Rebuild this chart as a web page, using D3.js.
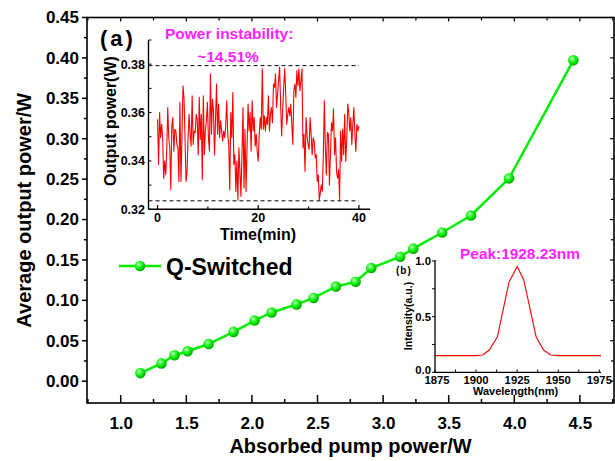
<!DOCTYPE html>
<html><head><meta charset="utf-8">
<script src="https://cdn.jsdelivr.net/npm/d3@7"></script>
<style>
html,body{margin:0;padding:0;background:#fff;}
svg text{font-family:"Liberation Sans",Arial,Helvetica,sans-serif;font-weight:bold;}
</style></head>
<body>
<svg id="chart" width="615" height="461"></svg>
<script>
// ---- main chart data ----
const pumpPower = [1.15, 1.31, 1.41, 1.51, 1.67, 1.86, 2.02, 2.15, 2.34, 2.47, 2.64, 2.79, 2.91, 3.13, 3.23, 3.45, 3.67, 3.96, 4.45];
const outputPower = [0.010, 0.022, 0.032, 0.037, 0.046, 0.061, 0.075, 0.085, 0.095, 0.103, 0.117, 0.123, 0.140, 0.154, 0.164, 0.184, 0.205, 0.251, 0.397];
const xTicks = [1.0, 1.5, 2.0, 2.5, 3.0, 3.5, 4.0, 4.5];
const yTicks = [0.00, 0.05, 0.10, 0.15, 0.20, 0.25, 0.30, 0.35, 0.40, 0.45];
const seriesName = "Q-Switched";

// ---- inset (a): power stability over 40 min ----
const stabilityDuration = 40; // minutes
const stabilityPower = [
0.3572,0.3385,0.3600,0.3496,0.3551,0.3496,0.3329,0.3399,0.3343,0.3440,
0.3621,0.3496,0.3454,0.3281,0.3544,0.3579,0.3440,0.3531,0.3524,0.3468,
0.3454,0.3315,0.3642,0.3315,0.3496,0.3711,0.3663,0.3496,0.3315,0.3357,
0.3496,0.3593,0.3510,0.3461,0.3669,0.3468,0.3524,0.3517,0.3593,0.3572,
0.3426,0.3663,0.3489,0.3593,0.3322,0.3669,0.3426,0.3524,0.3565,0.3642,
0.3496,0.3440,0.3760,0.3510,0.3656,0.3607,0.3426,0.3572,0.3718,0.3510,
0.3635,0.3496,0.3565,0.3524,0.3482,0.3524,0.3496,0.3544,0.3649,0.3510,
0.3468,0.3281,0.3600,0.3496,0.3683,0.3385,0.3426,0.3274,0.3399,0.3239,
0.3454,0.3357,0.3253,0.3426,0.3621,0.3288,0.3531,0.3274,0.3454,0.3635,
0.3524,0.3600,0.3440,0.3649,0.3524,0.3579,0.3461,0.3510,0.3440,0.3399,
0.3510,0.3579,0.3531,0.3781,0.3531,0.3586,0.3524,0.3579,0.3551,0.3669,
0.3524,0.3593,0.3621,0.3558,0.3718,0.3704,0.3760,0.3621,0.3676,0.3732,
0.3788,0.3635,0.3503,0.3607,0.3704,0.3781,0.3676,0.3551,0.3593,0.3621,
0.3586,0.3635,0.3551,0.3468,0.3690,0.3718,0.3663,0.3774,0.3711,0.3781,
0.3690,0.3732,0.3781,0.3454,0.3510,0.3357,0.3579,0.3503,0.3468,0.3447,
0.3579,0.3510,0.3426,0.3496,0.3482,0.3413,0.3426,0.3315,0.3343,0.3239,
0.3267,0.3301,0.3274,0.3426,0.3649,0.3454,0.3343,0.3517,0.3510,0.3301,
0.3426,0.3558,0.3524,0.3614,0.3426,0.3496,0.3357,0.3329,0.3364,0.3239,
0.3524,0.3399,0.3531,0.3426,0.3593,0.3399,0.3482,0.3635,0.3600,0.3524,
0.3579,0.3468,0.3551,0.3621,0.3510,0.3440,0.3551,0.3524,0.3544];
const stabilityMax = 0.3794, stabilityMin = 0.3235;
const timeTicks = [0, 20, 40];
const insetATicks = [0.32, 0.34, 0.36, 0.38];

// ---- inset (b): spectrum ----
const wavelength = [1875, 1900, 1904, 1908, 1913, 1920, 1925, 1929, 1936.5, 1941, 1945.5, 1950, 1976];
const intensity  = [0.15, 0.15, 0.155, 0.20, 0.32, 0.81, 0.95, 0.83, 0.32, 0.20, 0.155, 0.15, 0.15];
const wlTicks = [1875, 1900, 1925, 1950, 1975];
const intTicks = [0.0, 0.5, 1.0];

const svg = d3.select("#chart");
const defs = svg.append("defs");
const grad = defs.append("radialGradient").attr("id","ball").attr("cx","38%").attr("cy","35%").attr("r","65%");
grad.append("stop").attr("offset","0%").attr("stop-color","#f0fff0");
grad.append("stop").attr("offset","25%").attr("stop-color","#55ff55");
grad.append("stop").attr("offset","65%").attr("stop-color","#00e600");
grad.append("stop").attr("offset","100%").attr("stop-color","#00a800");

// ===== main axes =====
const x = d3.scaleLinear().domain([0.743, 4.76]).range([87, 614]);
const y = d3.scaleLinear().domain([-0.027, 0.45]).range([403, 17.5]);
const X0 = 87, X1 = 614, Y0 = 403, Y1 = 17.5;

const xMinor = d3.range(0.75, 4.76, 0.25);
const yMinor = d3.range(0, 0.451, 0.025);

const ax = svg.append("g").attr("class","axes");
const gB = ax.append("g").attr("transform",`translate(0,${Y0})`)
  .call(d3.axisBottom(x).tickValues(xTicks).tickSize(0).tickPadding(14).tickFormat(d3.format(".1f")));
gB.select(".domain").remove();
gB.selectAll("text").attr("font-size",17).attr("fill","#000");
ax.append("g").selectAll("line").data(xMinor).join("line")
  .attr("x1",d=>x(d)).attr("x2",d=>x(d)).attr("y1",Y0)
  .attr("y2",d=>Y0 - (Math.abs(d*2-Math.round(d*2))<1e-6 ? 8 : 4))
  .attr("stroke","#000").attr("stroke-width",1.5);
ax.append("g").selectAll("line").data(xMinor).join("line")
  .attr("x1",d=>x(d)).attr("x2",d=>x(d)).attr("y1",Y1)
  .attr("y2",d=>Y1 + (Math.abs(d*2-Math.round(d*2))<1e-6 ? 4 : 3))
  .attr("stroke","#000").attr("stroke-width",1.2);
const gL = ax.append("g").attr("transform",`translate(${X0},0)`)
  .call(d3.axisLeft(y).tickValues(yTicks).tickSize(0).tickPadding(8).tickFormat(d3.format(".2f")));
gL.select(".domain").remove();
gL.selectAll("text").attr("font-size",17).attr("fill","#000");
ax.append("g").selectAll("line").data(yMinor).join("line")
  .attr("y1",d=>y(d)).attr("y2",d=>y(d)).attr("x1",X0)
  .attr("x2",d=>X0 - (Math.abs(d*20-Math.round(d*20))<1e-6 ? 5 : 3))
  .attr("stroke","#000").attr("stroke-width",1.5);
ax.append("g").selectAll("line").data(yMinor).join("line")
  .attr("y1",d=>y(d)).attr("y2",d=>y(d)).attr("x1",X1)
  .attr("x2",d=>X1 - (Math.abs(d*20-Math.round(d*20))<1e-6 ? 4 : 3))
  .attr("stroke","#000").attr("stroke-width",1.2);
ax.append("rect").attr("x",X0).attr("y",Y1).attr("width",X1-X0).attr("height",Y0-Y1)
  .attr("fill","none").attr("stroke","#000").attr("stroke-width",1.6);

svg.append("text").attr("x",(X0+X1)/2).attr("y",453).attr("text-anchor","middle")
  .attr("font-size",20).text("Absorbed pump power/W");
svg.append("text").attr("transform",`translate(31,${(Y0+Y1)/2}) rotate(-90)`).attr("text-anchor","middle")
  .attr("font-size",20).text("Average output power/W");

const pts = pumpPower.map((p,i)=>[p, outputPower[i]]);
svg.append("path").datum(pts)
  .attr("d", d3.line().x(d=>x(d[0])).y(d=>y(d[1])))
  .attr("fill","none").attr("stroke","#00ee00").attr("stroke-width",2.5);
svg.append("g").selectAll("circle").data(pts).join("circle")
  .attr("cx",d=>x(d[0])).attr("cy",d=>y(d[1])).attr("r",5.3).attr("fill","url(#ball)");

const lg = svg.append("g");
lg.append("line").attr("x1",119).attr("x2",161).attr("y1",266).attr("y2",266)
  .attr("stroke","#00ee00").attr("stroke-width",2.5);
lg.append("circle").attr("cx",140).attr("cy",266).attr("r",5.3).attr("fill","url(#ball)");
lg.append("text").attr("x",166).attr("y",274.5).attr("font-size",23).text(seriesName);

// ===== inset (a) =====
const ax2 = d3.scaleLinear().domain([-1.8, 42.2]).range([148.5, 370]);
const ay2 = d3.scaleLinear().domain([0.32, 0.39]).range([209.3, 40]);
const ia = svg.append("g");
const tA = stabilityPower.map((v,i)=>[i*stabilityDuration/(stabilityPower.length-1), v]);
ia.append("path").datum(tA).attr("d", d3.line().x(d=>ax2(d[0])).y(d=>ay2(d[1])))
  .attr("fill","none").attr("stroke","#ff0000").attr("stroke-width",1.1).attr("stroke-linejoin","round");
[stabilityMax, stabilityMin].forEach(v=>{
  ia.append("line").attr("x1",148.5).attr("x2",ax2(40)).attr("y1",ay2(v)).attr("y2",ay2(v))
    .attr("stroke","#000").attr("stroke-width",1).attr("stroke-dasharray","4,3");
});
ia.append("line").attr("x1",148.5).attr("x2",148.5).attr("y1",40).attr("y2",209.3).attr("stroke","#000").attr("stroke-width",1.4);
ia.append("line").attr("x1",148.5).attr("x2",370).attr("y1",209.3).attr("y2",209.3).attr("stroke","#000").attr("stroke-width",1.4);
ia.selectAll(".ayt").data(d3.range(0.32,0.3901,0.01)).join("line")
  .attr("x1",148.5).attr("x2",151.5).attr("y1",d=>ay2(d)).attr("y2",d=>ay2(d)).attr("stroke","#000");
ia.selectAll(".axt").data([0,10,20,30,40]).join("line")
  .attr("x1",d=>ax2(d)).attr("x2",d=>ax2(d)).attr("y1",209.3).attr("y2",d=>d%20===0?205:206.5).attr("stroke","#000").attr("stroke-width",1.2);
ia.selectAll(".ayl").data(insetATicks).join("text")
  .attr("x",145).attr("y",d=>ay2(d)+4.5).attr("text-anchor","end").attr("font-size",12.5).text(d=>d.toFixed(2));
ia.selectAll(".axl").data(timeTicks).join("text")
  .attr("x",d=>ax2(d)).attr("y",222).attr("text-anchor","middle").attr("font-size",12.5).text(d=>d);
ia.append("text").attr("x",258).attr("y",239.5).attr("text-anchor","middle").attr("font-size",16).text("Time(min)");
ia.append("text").attr("transform","translate(116,121) rotate(-90)").attr("text-anchor","middle").attr("font-size",16).text("Output power(W)");
ia.append("text").attr("x",100).attr("y",46).attr("font-size",22).attr("letter-spacing",3).text("(a)");
ia.append("text").attr("x",165).attr("y",38.5).attr("font-size",15.5).attr("fill","#ff22ff").text("Power instability:");
ia.append("text").attr("x",228).attr("y",61.5).attr("text-anchor","middle").attr("font-size",15.5).attr("fill","#ff22ff").text("~14.51%");

// ===== inset (b) =====
const bx = d3.scaleLinear().domain([1875, 1976]).range([435, 601]);
const by = d3.scaleLinear().domain([0, 1]).range([372.3, 261]);
const ib = svg.append("g");
const spec = wavelength.map((w,i)=>[w, intensity[i]]);
ib.append("path").datum(spec).attr("d", d3.line().x(d=>bx(d[0])).y(d=>by(d[1])))
  .attr("fill","none").attr("stroke","#ff0000").attr("stroke-width",1.1);
ib.append("line").attr("x1",435).attr("x2",435).attr("y1",260).attr("y2",372.3).attr("stroke","#000").attr("stroke-width",1.3);
ib.append("line").attr("x1",435).attr("x2",601).attr("y1",372.3).attr("y2",372.3).attr("stroke","#000").attr("stroke-width",1.3);
ib.selectAll(".byt").data([0,0.25,0.5,0.75,1]).join("line")
  .attr("x1",432).attr("x2",435).attr("y1",d=>by(d)).attr("y2",d=>by(d)).attr("stroke","#000");
ib.selectAll(".bxt").data(d3.range(1875,1976,12.5)).join("line")
  .attr("x1",d=>bx(d)).attr("x2",d=>bx(d)).attr("y1",372.3).attr("y2",369.5).attr("stroke","#000");
ib.selectAll(".byl").data(intTicks).join("text")
  .attr("x",431).attr("y",d=>by(d)+(d===0?1.5:4)).attr("text-anchor","end").attr("font-size",11.3).text(d=>d.toFixed(1));
ib.selectAll(".bxl").data(wlTicks).join("text")
  .attr("x",d=>bx(d)+(d===1875?2:0)).attr("y",383.5).attr("text-anchor","middle").attr("font-size",11.3).text(d=>d);
ib.append("text").attr("x",515.5).attr("y",394.5).attr("text-anchor","middle").attr("font-size",11).text("Wavelength(nm)");
ib.append("text").attr("transform","translate(412,316) rotate(-90)").attr("text-anchor","middle").attr("font-size",10.5).text("Intensity(a.u.)");
ib.append("text").attr("x",396).attr("y",274).attr("font-size",10).attr("letter-spacing",1).text("(b)");
ib.append("text").attr("x",520).attr("y",258.5).attr("text-anchor","middle").attr("font-size",15.4).attr("fill","#ff22ff").text("Peak:1928.23nm");
</script>
</body></html>
